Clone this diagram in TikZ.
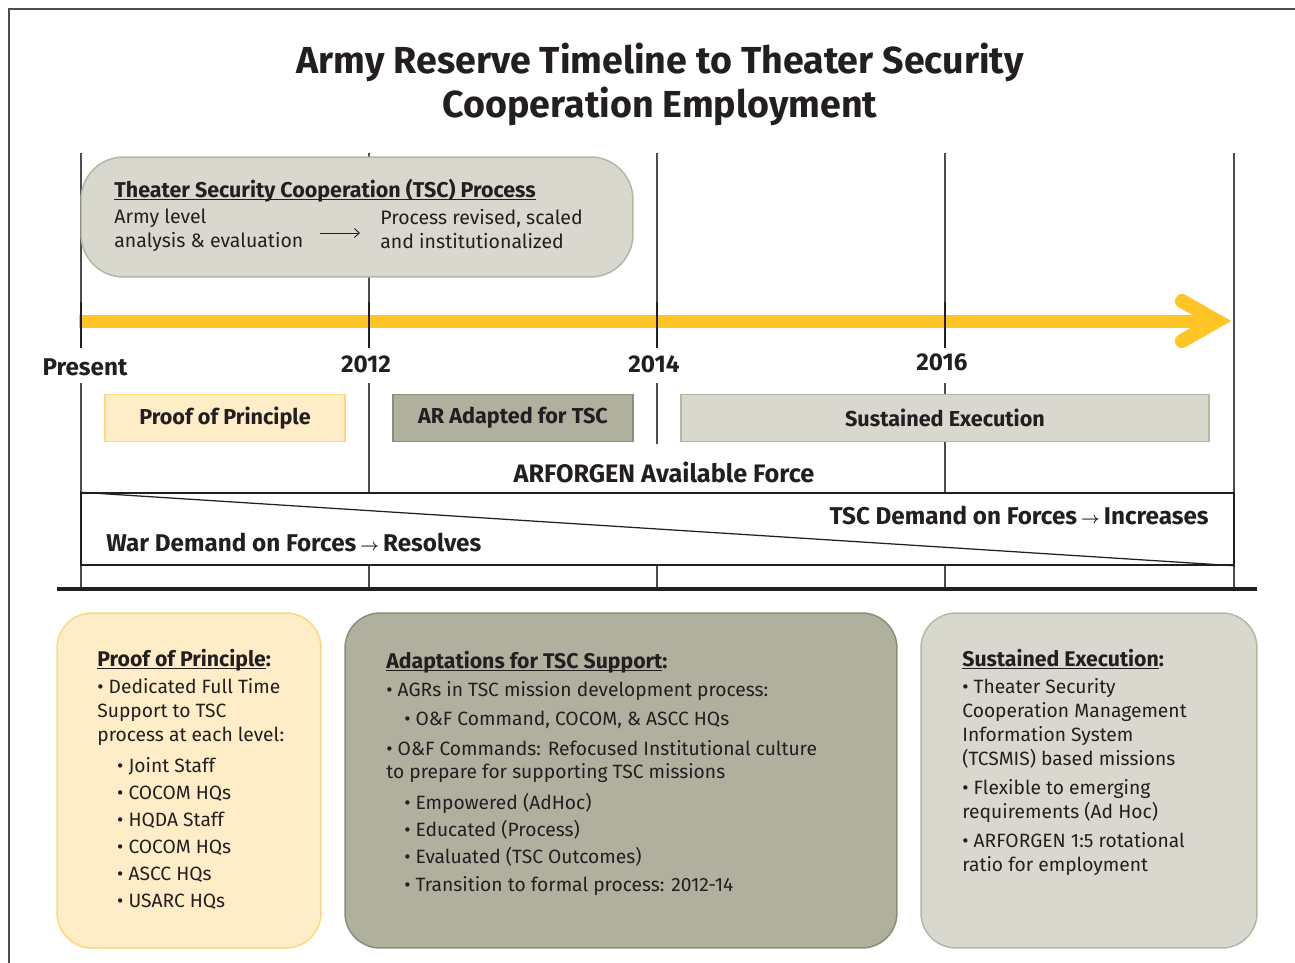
\documentclass[tikz,border=0pt]{standalone}
\usepackage{fontspec}
\setmainfont{Fira Sans}
\usetikzlibrary{arrows.meta}

\definecolor{inkblack}{HTML}{231F20}
\definecolor{rulegray}{HTML}{4D4D4D}
\definecolor{tscyellow}{HTML}{FFC425}
\definecolor{paleyellow}{HTML}{FFEDC7}
\definecolor{paleyellowline}{HTML}{FFD77E}
\definecolor{khaki}{HTML}{B0B09E}
\definecolor{khakiline}{HTML}{8C8C78}
\definecolor{stone}{HTML}{D8D8CF}
\definecolor{stoneline}{HTML}{B6B6A4}

\newcommand{\ulhead}[1]{\underline{\smash{#1}}}
\newcommand{\demandarrow}{\,\raisebox{1pt}{\small\boldmath$\rightarrow$}\,}

\begin{document}
\begin{tikzpicture}[x=0.02cm,y=-0.02cm,
    every node/.style={inner sep=0pt,text=inkblack},
    framerule/.style={line width=0.03cm,draw=rulegray},
    gridline/.style={line width=0.022cm,draw=rulegray},
    yeartick/.style={line width=0.055cm,draw=inkblack},
    timeline/.style={line width=0.26cm,draw=tscyellow},
    timehead/.style={line width=0.28cm,draw=tscyellow,line cap=round,line join=miter},
    procarrow/.style={line width=0.018cm,draw=inkblack,-{Straight Barb[length=0.1cm,width=0.18cm]}},
    yearlabel/.style={font=\bfseries\fontsize{13.8}{16}\selectfont},
    bandlabel/.style={font=\bfseries\fontsize{13.8}{16}\selectfont},
    phasebox/.style={line width=0.03cm,minimum height=0.94cm,font=\bfseries\fontsize{12.3}{14}\selectfont},
    panel/.style={rounded corners=0.7cm,line width=0.03cm,minimum height=6.7cm},
    paneltitle/.style={anchor=base west,font=\bfseries\fontsize{12.1}{14}\selectfont},
    paneltext/.style={anchor=north west,align=left,font=\fontsize{10.95}{13.6}\selectfont}]
            \useasboundingbox (0,0) rectangle (1295,963);

            % Drawing frame
            \draw [framerule] (9,963) -- (9,9) -- (1295,9);%

            % Drawing title
            \node [align=center,font=\bfseries\fontsize{21.4}{25}\selectfont] (title) at (660,84)
              {Army Reserve Timeline to Theater Security\\Cooperation Employment};%

            % Drawing line present
            \draw [gridline] (81,153) -- (81,348);%
            \draw [gridline] (81,383) -- (81,589);%

            % Drawing line 2012
            \draw [gridline] (369,153) -- (369,348);%
            \draw [gridline] (369,383) -- (369,589);%

            % Drawing line 2014
            \draw [gridline] (657,153) -- (657,348);%
            \draw [gridline] (657,383) -- (657,444);%
            \draw [gridline] (657,565) -- (657,589);%

            % Drawing line 2016
            \draw [gridline] (945,153) -- (945,348);%
            \draw [gridline] (945,383) -- (945,589);%

            % Drawing line end
            \draw [gridline] (1234,153) -- (1234,589);%

            % Drawing TSC process box
            \node [rounded corners=0.85cm,line width=0.03cm,fill=stone,draw=stoneline,
              minimum width=11.04cm,minimum height=2.4cm] (tscbox) at (357,217) {};%
            \node [anchor=base west,font=\bfseries\fontsize{12.2}{14}\selectfont] (tschead) at (114,197)
              {\ulhead{Theater Security Cooperation (TSC) Process}};%
            \node [anchor=north west,align=left,font=\fontsize{11.1}{13.6}\selectfont] (armylevel) at (114,209)
              {Army level\\analysis \& evaluation};%
            \node [anchor=north west,align=left,font=\fontsize{11.1}{13.6}\selectfont] (revised) at (380,209)
              {Process revised, scaled\\and institutionalized};%
            \draw [procarrow] ([xshift=-1.2cm,yshift=-0.08cm]revised.west) -- ([xshift=-0.4cm,yshift=-0.08cm]revised.west);%

            % Drawing timeline arrow
            \coordinate (tlstart) at (79,321);
            \coordinate (tltip) at (1217,321);
            \draw [timeline] (tlstart) -- (tltip);%
            \draw [timehead] (1182,301) -- (tltip) -- (1182,341);%

            % Marking year ticks
            \draw [yeartick] (81,302) -- (81,348);%
            \draw [yeartick] (369,302) -- (369,348);%
            \draw [yeartick] (657,302) -- (657,348);%
            \draw [yeartick] (945,302) -- (945,348);%

            % Marking year labels
            \node [yearlabel] (present) at (85,367) {Present};%
            \node [yearlabel] (y2012) at (366,364) {2012};%
            \node [yearlabel] (y2014) at (654,364) {2014};%
            \node [yearlabel] (y2016) at (942,362) {2016};%

            % Drawing phase boxes
            \node [phasebox,fill=paleyellow,draw=paleyellowline,minimum width=4.8cm] (proofbox) at (225,418) {Proof of Principle};%
            \node [phasebox,fill=khaki,draw=khakiline,minimum width=4.8cm] (adaptbox) at (513,418) {AR Adapted for TSC};%
            \node [phasebox,fill=stone,draw=stoneline,minimum width=10.56cm] (sustainbox) at (945,418) {Sustained Execution};%

            % Marking available force
            \node [bandlabel,font=\bfseries\fontsize{14.4}{16}\selectfont] (arforgen) at (664,472) {ARFORGEN Available Force};%

            % Drawing demand box
            \node [line width=0.03cm,draw=inkblack,fill=white,minimum width=23.06cm,minimum height=1.44cm] (demand) at (657.5,529) {};%
            \draw [line width=0.025cm,draw=inkblack] (demand.north west) -- (demand.south east);%
            \node [bandlabel,anchor=east] (tscdemand) at (1209,516) {TSC Demand on Forces\demandarrow Increases};%
            \node [bandlabel,anchor=west] (wardemand) at (106,543) {War Demand on Forces\demandarrow Resolves};%

            % Drawing base rule
            \draw [line width=0.08cm,draw=inkblack] (57,589) -- (1257,589);%

            % Drawing panel proof of principle
            \node [panel,fill=paleyellow,draw=paleyellowline,minimum width=5.28cm] (proofpanel) at (189,780.5) {};%
            \node [paneltitle] (proofhead) at (97,666) {\ulhead{Proof of Principle}:};%
            \node [paneltext] (prooftext) at (97,678)
              {\textbullet\ Dedicated Full Time\\
               Support to TSC\\
               process at each level:\\[4.5pt]
               \hspace*{11.3pt}\textbullet\ Joint Staff\\[1.7pt]
               \hspace*{11.3pt}\textbullet\ COCOM HQs\\[1.7pt]
               \hspace*{11.3pt}\textbullet\ HQDA Staff\\[1.7pt]
               \hspace*{11.3pt}\textbullet\ COCOM HQs\\[1.7pt]
               \hspace*{11.3pt}\textbullet\ ASCC HQs\\[1.7pt]
               \hspace*{11.3pt}\textbullet\ USARC HQs};%

            % Drawing panel adaptations
            \node [panel,fill=khaki,draw=khakiline,minimum width=11.04cm] (adaptpanel) at (621,780.5) {};%
            \node [paneltitle] (adapthead) at (386,668) {\ulhead{Adaptations for TSC Support}:};%
            \node [paneltext] (adapttext) at (386,681)
              {\textbullet\ AGRs in TSC mission development process:\\[2.8pt]
               \hspace*{10.2pt}\textbullet\ O\&F Command, COCOM, \& ASCC HQs\\[3.4pt]
               \textbullet\ O\&F Commands: Refocused Institutional culture\\
               to prepare for supporting TSC missions\\[4pt]
               \hspace*{10.2pt}\textbullet\ Empowered (AdHoc)\\[1.7pt]
               \hspace*{10.2pt}\textbullet\ Educated (Process)\\[1.7pt]
               \hspace*{10.2pt}\textbullet\ Evaluated (TSC Outcomes)\\[2.3pt]
               \hspace*{10.2pt}\textbullet\ Transition to formal process: 2012-14};%

            % Drawing panel sustained execution
            \node [panel,fill=stone,draw=stoneline,minimum width=6.72cm] (sustainpanel) at (1089,780.5) {};%
            \node [paneltitle] (sustainhead) at (962,666) {\ulhead{Sustained Execution}:};%
            \node [paneltext] (sustaintext) at (962,678)
              {\textbullet\ Theater Security\\
               Cooperation Management\\
               Information System\\
               (TCSMIS) based missions\\[3.4pt]
               \textbullet\ Flexible to emerging\\
               requirements (Ad Hoc)\\[2.8pt]
               \textbullet\ ARFORGEN 1:5 rotational\\
               ratio for employment};%
        \end{tikzpicture}
\end{document}
